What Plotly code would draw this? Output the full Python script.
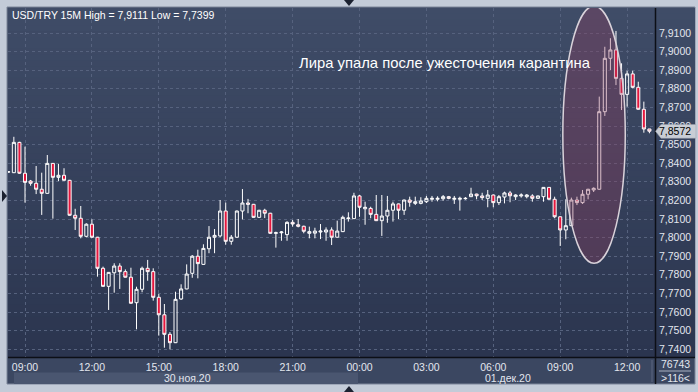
import pandas as pd
import plotly.graph_objects as go

# ---------------- data (15-minute USD/TRY candles, 30.11.2020 08:15 -> 01.12.2020 12:45) -------------
start_time = "2020-11-30 08:15"
opens = [
    7.8352, 7.8349, 7.8512, 7.8346, 7.8304, 7.8292, 7.8260, 7.8238, 7.8399, 7.8324,
    7.8335, 7.8308, 7.8120, 7.8104, 7.8007, 7.8072, 7.8002, 7.7835, 7.7738, 7.7811,
    7.7847, 7.7817, 7.7787, 7.7650, 7.7722, 7.7835, 7.7817, 7.7679, 7.7585, 7.7480,
    7.7435, 7.7670, 7.7724, 7.7808, 7.7900, 7.7856, 7.7940, 7.8002, 7.8009, 7.8143,
    7.7980, 7.8002, 7.8143, 7.8186, 7.8179, 7.8109, 7.8147, 7.8131, 7.8023, 7.8026,
    7.8016, 7.8082, 7.8069, 7.8061, 7.8023, 7.8024, 7.8030, 7.8030, 7.8041, 7.8002,
    7.8032, 7.8102, 7.8102, 7.8224, 7.8155, 7.8157, 7.8125, 7.8091, 7.8116, 7.8147,
    7.8181, 7.8147, 7.8202, 7.8184, 7.8184, 7.8193, 7.8206, 7.8206, 7.8209, 7.8220,
    7.8206, 7.8206, 7.8209, 7.8220, 7.8234, 7.8224, 7.8211, 7.8229, 7.8188, 7.8218,
    7.8240, 7.8220, 7.8224, 7.8220, 7.8224, 7.8211, 7.8220, 7.8270, 7.8206, 7.8112,
    7.8041, 7.8064, 7.8202, 7.8188, 7.8233, 7.8256, 7.8260, 7.8677, 7.8964, 7.9009,
    7.8856, 7.8770, 7.8880, 7.8808, 7.8690, 7.8584,
]
highs = [
    7.8356, 7.8542, 7.8515, 7.8489, 7.8310, 7.8385, 7.8349, 7.8444, 7.8401, 7.8396,
    7.8373, 7.8310, 7.8155, 7.8170, 7.8077, 7.8098, 7.8004, 7.7844, 7.7815, 7.7862,
    7.7862, 7.7829, 7.7838, 7.7736, 7.7844, 7.7880, 7.7835, 7.7697, 7.7643, 7.7492,
    7.7709, 7.7749, 7.7856, 7.7906, 7.7935, 7.7964, 7.8062, 7.8046, 7.8202, 7.8188,
    7.8014, 7.8145, 7.8261, 7.8208, 7.8181, 7.8149, 7.8155, 7.8133, 7.8032, 7.8035,
    7.8088, 7.8095, 7.8100, 7.8064, 7.8059, 7.8053, 7.8073, 7.8055, 7.8055, 7.8091,
    7.8118, 7.8136, 7.8241, 7.8229, 7.8193, 7.8166, 7.8229, 7.8229, 7.8224, 7.8193,
    7.8183, 7.8204, 7.8220, 7.8220, 7.8217, 7.8224, 7.8224, 7.8222, 7.8229, 7.8224,
    7.8224, 7.8220, 7.8218, 7.8268, 7.8236, 7.8241, 7.8256, 7.8231, 7.8229, 7.8247,
    7.8251, 7.8233, 7.8238, 7.8234, 7.8233, 7.8226, 7.8272, 7.8272, 7.8220, 7.8114,
    7.8206, 7.8215, 7.8220, 7.8256, 7.8262, 7.8270, 7.8758, 7.9026, 7.9072, 7.9111,
    7.8937, 7.8897, 7.8897, 7.8838, 7.8731, 7.8584,
]
lows = [
    7.8349, 7.8347, 7.8343, 7.8188, 7.8279, 7.8234, 7.8122, 7.8236, 7.8102, 7.8304,
    7.8306, 7.8118, 7.8041, 7.7996, 7.8002, 7.7998, 7.7790, 7.7736, 7.7611, 7.7704,
    7.7724, 7.7785, 7.7645, 7.7507, 7.7706, 7.7768, 7.7661, 7.7473, 7.7408, 7.7399,
    7.7433, 7.7665, 7.7722, 7.7784, 7.7781, 7.7854, 7.7916, 7.7916, 7.8002, 7.7962,
    7.7962, 7.8000, 7.8098, 7.8131, 7.8107, 7.8107, 7.8105, 7.8021, 7.7946, 7.7983,
    7.7983, 7.8059, 7.8055, 7.8023, 7.7996, 7.7996, 7.7992, 7.7983, 7.7960, 7.8000,
    7.8030, 7.8086, 7.8100, 7.8112, 7.8069, 7.8104, 7.8089, 7.8009, 7.8080, 7.8086,
    7.8100, 7.8122, 7.8166, 7.8175, 7.8179, 7.8186, 7.8193, 7.8195, 7.8198, 7.8206,
    7.8181, 7.8145, 7.8204, 7.8218, 7.8206, 7.8202, 7.8163, 7.8163, 7.8175, 7.8184,
    7.8190, 7.8202, 7.8215, 7.8211, 7.8193, 7.8209, 7.8193, 7.8204, 7.8104, 7.7955,
    7.7991, 7.8062, 7.8175, 7.8181, 7.8206, 7.8245, 7.8258, 7.8654, 7.8901, 7.8820,
    7.8686, 7.8704, 7.8803, 7.8688, 7.8564, 7.8561,
]
closes = [
    7.8354, 7.8512, 7.8346, 7.8297, 7.8292, 7.8260, 7.8238, 7.8399, 7.8324, 7.8335,
    7.8308, 7.8120, 7.8104, 7.8007, 7.8072, 7.8002, 7.7835, 7.7738, 7.7813, 7.7847,
    7.7817, 7.7787, 7.7647, 7.7722, 7.7835, 7.7817, 7.7679, 7.7585, 7.7480, 7.7435,
    7.7668, 7.7724, 7.7804, 7.7900, 7.7860, 7.7942, 7.8002, 7.8012, 7.8143, 7.7980,
    7.8002, 7.8143, 7.8186, 7.8179, 7.8109, 7.8147, 7.8131, 7.8023, 7.8026, 7.8030,
    7.8082, 7.8073, 7.8061, 7.8034, 7.8032, 7.8035, 7.8035, 7.8041, 7.8002, 7.8035,
    7.8109, 7.8105, 7.8224, 7.8163, 7.8163, 7.8125, 7.8091, 7.8116, 7.8147, 7.8181,
    7.8147, 7.8202, 7.8190, 7.8193, 7.8197, 7.8211, 7.8211, 7.8211, 7.8220, 7.8211,
    7.8211, 7.8211, 7.8211, 7.8234, 7.8225, 7.8215, 7.8229, 7.8188, 7.8220, 7.8240,
    7.8225, 7.8229, 7.8229, 7.8229, 7.8211, 7.8224, 7.8270, 7.8206, 7.8112, 7.8041,
    7.8064, 7.8202, 7.8188, 7.8233, 7.8260, 7.8265, 7.8677, 7.8964, 7.9009, 7.8856,
    7.8770, 7.8880, 7.8808, 7.8690, 7.8584, 7.8572,
]
price_ticks = [7.74, 7.75, 7.76, 7.77, 7.78, 7.79, 7.80, 7.81, 7.82, 7.83,
               7.84, 7.85, 7.86, 7.87, 7.88, 7.89, 7.90, 7.91]
time_ticks = ["2020-11-30 09:00", "2020-11-30 12:00", "2020-11-30 15:00", "2020-11-30 18:00",
              "2020-11-30 21:00", "2020-12-01 00:00", "2020-12-01 03:00", "2020-12-01 06:00",
              "2020-12-01 09:00", "2020-12-01 12:00"]
time_labels = ["09:00", "12:00", "15:00", "18:00", "21:00", "00:00", "03:00", "06:00", "09:00", "12:00"]
title_text = "USD/TRY 15M High = 7,9111 Low = 7,7399"
note_text = "Лира упала после ужесточения карантина"
date_labels = ["30.ноя.20", "01.дек.20"]
last_price = 7.8572
volume_text = "76743"
bars_text = ">116<"

times = pd.date_range(start_time, periods=len(opens), freq="15min")

W, H = 698, 392
L, R, T, B = 8, 655, 8, 357   # plot area in pixels


def px(x):
    return (x - L) / (R - L)


def py(y):
    return (B - y) / (B - T)


FONT = "Liberation Sans"
shapes = []

# dark panel (axes areas)
shapes.append(dict(type="rect", xref="paper", yref="paper", x0=px(7), x1=px(695), y0=py(384), y1=py(7),
                   fillcolor="#3b4761", line=dict(color="#7c869a", width=1), layer="below"))
# vertical gradient of the chart background
n = 60
c_top = (63, 76, 103)
c_bot = (43, 53, 79)
for i in range(n):
    f = i / (n - 1)
    col = tuple(round(c_top[k] + (c_bot[k] - c_top[k]) * f) for k in range(3))
    y0 = T + (B - T) * i / n
    y1 = T + (B - T) * (i + 1) / n
    shapes.append(dict(type="rect", xref="paper", yref="paper", x0=px(8), x1=px(695),
                       y0=py(y1 + 0.5), y1=py(y0), fillcolor="rgb(%d,%d,%d)" % col,
                       line=dict(width=0), layer="below"))
# date band
shapes.append(dict(type="rect", xref="paper", yref="paper", x0=px(14), x1=px(358), y0=py(384), y1=py(372.5),
                   fillcolor="#4a5670", line=dict(width=0), layer="below"))
# black axis lines
shapes.append(dict(type="line", xref="paper", yref="paper", x0=px(8), x1=px(695), y0=py(357.5), y1=py(357.5),
                   line=dict(color="#0c0f16", width=1.5), layer="above"))
shapes.append(dict(type="line", xref="paper", yref="paper", x0=px(655.5), x1=px(655.5), y0=py(384), y1=py(8),
                   line=dict(color="#0c0f16", width=1.5), layer="above"))
# small separator lines in the bottom right box
shapes.append(dict(type="line", xref="paper", yref="paper", x0=px(652), x1=px(652), y0=py(382), y1=py(360),
                   line=dict(color="#5c6680", width=1), layer="above"))
shapes.append(dict(type="line", xref="paper", yref="paper", x0=px(659), x1=px(691), y0=py(371), y1=py(371),
                   line=dict(color="#aab2c2", width=1), layer="above"))
# frame arrows
shapes.append(dict(type="path", xref="paper", yref="paper",
                   path="M %f,%f L %f,%f L %f,%f Z" % (px(344), py(0), px(354), py(0), px(349), py(6)),
                   fillcolor="#1b2130", line=dict(width=0), layer="above"))
shapes.append(dict(type="path", xref="paper", yref="paper",
                   path="M %f,%f L %f,%f L %f,%f Z" % (px(344), py(392), px(354), py(392), px(349), py(386)),
                   fillcolor="#1b2130", line=dict(width=0), layer="above"))
shapes.append(dict(type="path", xref="paper", yref="paper",
                   path="M %f,%f L %f,%f L %f,%f Z" % (px(2), py(190), px(2), py(202), px(7), py(196)),
                   fillcolor="#1b2130", line=dict(width=0), layer="above"))
# highlight ellipse around the jump
shapes.append(dict(type="circle", xref="x", yref="y",
                   x0=times[99] + pd.Timedelta(minutes=7), x1=times[110] + pd.Timedelta(minutes=10),
                   y0=7.7862, y1=7.9245,
                   fillcolor="rgba(150,60,95,0.33)", line=dict(color="#d9d2da", width=1.5), layer="above"))
# last price tag
shapes.append(dict(type="path", xref="paper", yref="paper",
                   path="M %f,%f L %f,%f L %f,%f L %f,%f L %f,%f Z" % (
                       px(655.5), py(131.3), px(661), py(124.5), px(696), py(124.5), px(696), py(138.2),
                       px(661), py(138.2)),
                   fillcolor="#c9cdd5", line=dict(color="#9aa0ac", width=0.5), layer="above"))

fig = go.Figure()
fig.add_trace(go.Candlestick(
    x=times, open=opens, high=highs, low=lows, close=closes,
    increasing=dict(line=dict(color="#ffffff", width=1), fillcolor="rgba(0,0,0,0)"),
    decreasing=dict(line=dict(color="#ffffff", width=1), fillcolor="#e5173e"),
    whiskerwidth=0, showlegend=False, hoverinfo="skip",
))

annotations = [
    dict(text=title_text, xref="paper", yref="paper", x=px(10), y=py(15), xanchor="left", yanchor="middle",
         showarrow=False, font=dict(family=FONT, size=10.5, color="#ffffff")),
    dict(text=note_text, xref="paper", yref="paper", x=px(445), y=py(63), xanchor="center", yanchor="middle",
         showarrow=False, font=dict(family=FONT, size=14.8, color="#ffffff")),
    dict(text=date_labels[0], xref="paper", yref="paper", x=px(187), y=py(378), xanchor="center",
         yanchor="middle", showarrow=False, font=dict(family=FONT, size=10.5, color="#e2e6ee")),
    dict(text=date_labels[1], xref="paper", yref="paper", x=px(508), y=py(378), xanchor="center",
         yanchor="middle", showarrow=False, font=dict(family=FONT, size=10.5, color="#e2e6ee")),
    dict(text=("%.4f" % last_price).replace(".", ","), xref="paper", yref="y", x=px(675), y=last_price,
         xanchor="center", yanchor="middle", showarrow=False, font=dict(family=FONT, size=10.5, color="#000000")),
    dict(text=volume_text, xref="paper", yref="paper", x=px(675), y=py(364), xanchor="center", yanchor="middle",
         showarrow=False, font=dict(family=FONT, size=10.5, color="#e2e6ee")),
    dict(text=bars_text, xref="paper", yref="paper", x=px(675), y=py(378), xanchor="center", yanchor="middle",
         showarrow=False, font=dict(family=FONT, size=10.5, color="#e2e6ee")),
]

price_to_px = 1860.0  # pixels per unit price
y_lo = 7.91 - (B - 33) / price_to_px
y_hi = 7.91 + (33 - T) / price_to_px

fig.update_layout(
    width=W, height=H,
    margin=dict(l=L, r=W - R, t=T, b=H - B, pad=0),
    paper_bgcolor="#c3cbd8", plot_bgcolor="rgba(0,0,0,0)",
    boxgap=0.22,
    shapes=shapes, annotations=annotations,
    font=dict(family=FONT, size=10.5, color="#e2e6ee"),
    xaxis=dict(type="date", range=["2020-11-30 08:14:15", "2020-12-01 13:15"],
               tickvals=time_ticks, ticktext=time_labels, showgrid=True, gridcolor="#56627e",
               griddash="3px,3px", gridwidth=1, zeroline=False, showline=False,
               ticks="", ticklabelstandoff=2, rangeslider=dict(visible=False),
               tickfont=dict(family=FONT, size=10.5, color="#e2e6ee"), fixedrange=True),
    yaxis=dict(range=[y_lo, y_hi], side="right", tickvals=price_ticks,
               ticktext=[("%.4f" % v).replace(".", ",") for v in price_ticks],
               showgrid=True, gridcolor="#56627e", griddash="3px,3px", gridwidth=1,
               zeroline=False, showline=False, ticks="", ticklabelstandoff=3,
               tickfont=dict(family=FONT, size=10.5, color="#e2e6ee"), fixedrange=True),
    hovermode=False,
)

fig.write_html("out.html")
